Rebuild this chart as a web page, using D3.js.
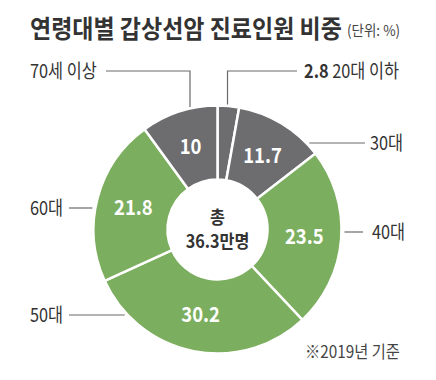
<!DOCTYPE html>
<html>
<head>
<meta charset="utf-8">
<script src="https://cdn.jsdelivr.net/npm/d3@7"></script>
<style>
    body { margin: 0; background: #fff; }
    svg { display: block; font-family: "Noto Sans CJK KR", "Noto Sans", sans-serif; }
</style>
</head>
<body>
<svg id="chart" width="436" height="380"></svg>
<script>
var ages = ["20대 이하", "30대", "40대", "50대", "60대", "70세 이상"];
var shares = [2.8, 11.7, 23.5, 30.2, 21.8, 10];
var palette = ["#6d6d70", "#6d6d70", "#7bae5e", "#7bae5e", "#7bae5e", "#6d6d70"];

var title = "연령대별 갑상선암 진료인원 비중";
var unit = "(단위: %)";
var centerLines = ["총", "36.3만명"];
var note = "※2019년 기준";

var width = 436, height = 380,
    cx = 217.5, cy = 229.5,
    outerR = 124, innerR = 50;

var svg = d3.select("#chart");

//  condensed text helper ---
function label(parent, x, y, sx) {
    return parent.append("text")
        .attr("transform", "translate(" + x + "," + y + ") scale(" + sx + ",1)")
        ;
}

//  Title ---
label(svg, 30, 38, 0.92)
    .attr("font-size", 25)
    .attr("font-weight", 700)
    .attr("fill", "#333")
    .text(title)
    ;
label(svg, 347, 36, 0.9)
    .attr("font-size", 15)
    .attr("fill", "#444")
    .text(unit)
    ;

//  Donut ---
var color = d3.scaleOrdinal().domain(ages).range(palette);
var pie = d3.pie().sort(null).value(function (d) { return d.value; });
var arc = d3.arc().innerRadius(innerR).outerRadius(outerR);
var labelArc = d3.arc().innerRadius(87).outerRadius(87);

var rows = ages.map(function (a, i) { return { age: a, value: shares[i] }; });
var slices = pie(rows);

var g = svg.append("g")
    .attr("transform", "translate(" + cx + "," + cy + ")")
    ;
g.selectAll("path.slice").data(slices)
    .enter().append("path")
    .attr("class", "slice")
    .attr("d", arc)
    .attr("fill", function (d) { return color(d.data.age); })
    .attr("stroke", "#fff")
    .attr("stroke-width", 2.5)
    ;
g.selectAll("text.value").data(slices.filter(function (d) { return d.data.value > 5; }))
    .enter().append("text")
    .attr("class", "value")
    .attr("transform", function (d) {
        var c = labelArc.centroid(d);
        return "translate(" + c[0] + "," + c[1] + ") scale(0.88,1)";
    })
    .attr("text-anchor", "middle")
    .attr("dy", "0.36em")
    .attr("font-size", 21)
    .attr("font-weight", 700)
    .attr("fill", "#fff")
    .text(function (d) { return d.data.value; })
    ;

//  Center ---
g.selectAll("text.center").data(centerLines)
    .enter().append("text")
    .attr("class", "center")
    .attr("transform", function (d, i) { return "translate(0," + (i ? 18.5 : -6) + ") scale(0.9,1)"; })
    .attr("text-anchor", "middle")
    .attr("font-size", 18)
    .attr("font-weight", 700)
    .attr("fill", "#333")
    .text(function (d) { return d; })
    ;

//  Leaders ---
//  h: horizontal leader at y, v: vertical leader at x then horizontal at y
var leaders = [
    { type: "v", x: 227.5, y: 71, end: 297, tx: 304 },
    { type: "h", y: 143, end: 365, tx: 370 },
    { type: "h", y: 232, end: 363, tx: 372 },
    { type: "h", y: 315, end: 69, tx: 30 },
    { type: "h", y: 208, end: 69, tx: 30 },
    { type: "v", x: 190, y: 71, end: 106, tx: 30 }
];

var line = d3.line();
leaders.forEach(function (l, i) {
    var pts;
    if (l.type === "h") {
        var dy = l.y - cy;
        var dx = Math.sqrt(outerR * outerR - dy * dy) + 3;
        var sx = l.end > cx ? cx + dx : cx - dx;
        pts = [[sx, l.y], [l.end, l.y]];
    } else {
        var ddx = l.x - cx;
        var sy = cy - Math.sqrt(outerR * outerR - ddx * ddx) - 1.5;
        pts = [[l.x, sy], [l.x, l.y], [l.end, l.y]];
    }
    svg.append("path")
        .attr("d", line(pts))
        .attr("fill", "none")
        .attr("stroke", "#6a6a6a")
        .attr("stroke-width", 1.2)
        ;
    var t = label(svg, l.tx, l.y, 0.86)
        .attr("dy", "0.35em")
        .attr("font-size", 19)
        .attr("fill", "#333")
        ;
    if (i === 0) {
        t.append("tspan").attr("font-weight", 700).text(shares[i]);
        t.append("tspan").text(" " + ages[i]);
    } else {
        t.text(ages[i]);
    }
});

//  Note ---
label(svg, 305, 358, 0.9)
    .attr("font-size", 17)
    .attr("fill", "#444")
    .text(note)
    ;
</script>
</body>
</html>
